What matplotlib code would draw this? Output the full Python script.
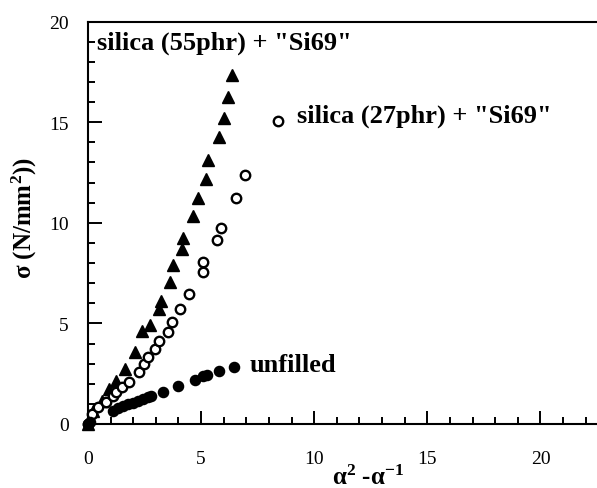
import matplotlib
matplotlib.use("Agg")
import matplotlib.pyplot as plt
from matplotlib.ticker import MultipleLocator

plt.rcParams['font.family'] = ['Liberation Serif', 'DejaVu Serif']
plt.rcParams['mathtext.fontset'] = 'custom'
plt.rcParams['mathtext.rm'] = 'Liberation Serif:bold'
plt.rcParams['mathtext.bf'] = 'Liberation Serif:bold'
plt.rcParams['mathtext.it'] = 'Liberation Serif:bold'

# silica (55phr) + "Si69"  (filled triangles)
tri_x = [0, 0.24, 0.6, 0.95, 1.24, 1.62, 2.08, 2.37, 2.76, 3.16, 3.24, 3.63, 3.77,
         4.14, 4.22, 4.66, 4.85, 5.22, 5.32, 5.80, 5.99, 6.18, 6.36]
tri_y = [0, 0.66, 1.15, 1.74, 2.15, 2.74, 3.6, 4.64, 4.9, 5.72, 6.13, 7.05, 7.88,
         8.7, 9.25, 10.36, 11.23, 12.15, 13.1, 14.26, 15.21, 16.25, 17.33]

# silica (27phr) + "Si69"  (open circles)
oc_x = [0, 0.16, 0.46, 0.80, 1.12, 1.22, 1.49, 1.83, 2.27, 2.48, 2.64, 2.96, 3.16,
        3.52, 3.70, 4.07, 4.48, 5.10, 5.10, 5.69, 5.87, 6.55, 6.92]
oc_y = [0, 0.5, 0.83, 1.11, 1.41, 1.6, 1.83, 2.1, 2.6, 2.99, 3.32, 3.73, 4.14,
        4.56, 5.09, 5.72, 6.47, 7.55, 8.04, 9.12, 9.74, 11.23, 12.39]

# unfilled (filled circles)
fc_x = [0, 0.08, 1.12, 1.34, 1.56, 1.78, 2.0, 2.23, 2.45, 2.67, 2.80, 3.33, 3.96,
        4.73, 5.07, 5.25, 5.77, 6.47]
fc_y = [0, 0.1, 0.66, 0.78, 0.88, 0.98, 1.04, 1.14, 1.24, 1.34, 1.39, 1.61, 1.89,
        2.2, 2.37, 2.44, 2.65, 2.85]

# legend-like marker for the 27phr label
leg_x = [8.42]
leg_y = [15.04]

x_ticks = [0, 5, 10, 15, 20]
y_ticks = [0, 5, 10, 15, 20]

fig = plt.figure(figsize=(5.97, 4.89), dpi=100)
ax = fig.add_axes([88/597, 1 - 425/489, 1 - 88/597, (425 - 22.5)/489])

ax.plot(tri_x, tri_y, linestyle='none', marker='^', markersize=9,
        color='black', clip_on=False)
ax.plot(oc_x, oc_y, linestyle='none', marker='o', markersize=6.8,
        markerfacecolor='white', markeredgecolor='black', markeredgewidth=1.7,
        clip_on=False)
ax.plot(fc_x, fc_y, linestyle='none', marker='o', markersize=7.3,
        color='black', clip_on=False)
ax.plot(leg_x, leg_y, linestyle='none', marker='o', markersize=6.8,
        markerfacecolor='white', markeredgecolor='black', markeredgewidth=1.7)

ax.set_xlim(0, 22.5)
ax.set_ylim(0, 20)
ax.set_xticks(x_ticks)
ax.set_yticks(y_ticks)
ax.xaxis.set_minor_locator(MultipleLocator(1))
ax.yaxis.set_minor_locator(MultipleLocator(1))

ax.tick_params(which='both', direction='in', top=False, right=False,
               width=1.4, labelsize=14)
ax.tick_params(axis='x', which='major', length=9.5, pad=19)
ax.tick_params(axis='x', which='minor', length=5)
ax.tick_params(axis='y', which='major', length=10, pad=14)
ax.tick_params(axis='y', which='minor', length=5)

ax.spines['right'].set_visible(False)
for s in ['left', 'bottom', 'top']:
    ax.spines[s].set_linewidth(1.5)

ax.text(0.4, 18.95, 'silica (55phr) + "Si69"', fontsize=19, fontweight='bold',
        ha='left', va='center')
ax.text(9.25, 15.35, 'silica (27phr) + "Si69"', fontsize=19, fontweight='bold',
        ha='left', va='center')
ax.text(7.15, 2.95, 'unfilled', fontsize=19, fontweight='bold',
        ha='left', va='center')

ax.set_xlabel(r'$\mathbf{\alpha^2}$ $\mathbf{\text{-}\alpha^{-1}}$', fontsize=18,
              va='center')
ax.xaxis.set_label_coords(0.55, -0.132)
ax.set_ylabel(r'$\mathbf{\sigma}$ (N/mm$^\mathbf{2}$))', fontsize=18,
              fontweight='bold', va='center')
ax.yaxis.set_label_coords(-0.124, 0.515)

fig.savefig('out.png', dpi=100)
